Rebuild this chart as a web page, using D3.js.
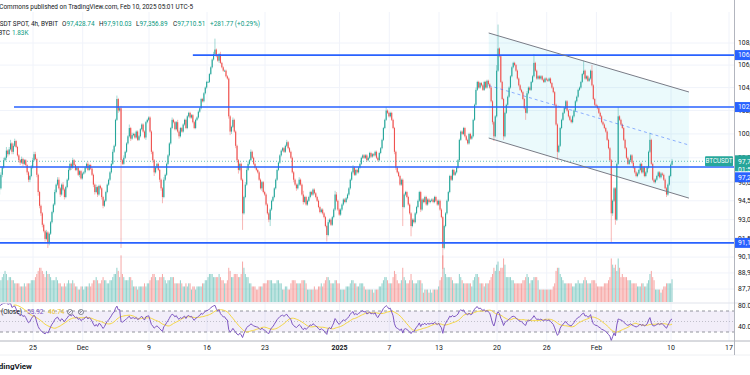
<!DOCTYPE html>
<html>
<head>
<meta charset="utf-8">
<script src="https://d3js.org/d3.v7.min.js"></script>
<style>
  body { margin: 0; background: #fff; }
  svg { display: block; font-family: Roboto, "Liberation Sans", sans-serif; }
</style>
</head>
<body>
<div id="chart"></div>
<script>
// BTCUSDT 4h candles, chart time UTC-5. Closes in hundreds of USDT, six bars a day (03,07,11,15,19,23h)
var firstBar = "2024-11-18T03:00";
var firstOpen = 902;

var closesNov = [
  905, 910, 915, 908, 912, 918,
  922, 928, 935, 930, 926, 925,
  932, 940, 938, 945, 950, 955,
  966, 972, 978, 980, 986, 983,
  987, 992, 985, 990, 994, 989,
  982, 978, 976, 979, 975, 978,
  974, 968, 962, 965, 972, 978,
  983, 979, 966, 952, 941, 935,
  926, 921, 915, 920, 912, 919,
  928, 936, 942, 952, 958, 962,
  955, 950, 958, 954, 948, 956,
  962, 970, 975, 972, 978, 974,
  970, 972, 966, 969, 963, 967
];
var closesDec = [
  968, 972, 975, 970, 974, 971,
  966, 958, 952, 956, 950, 957,
  955, 948, 941, 945, 952, 958,
  962, 968, 975, 985, 990, 1012,
  1030, 1020, 1022, 978, 975, 980,
  985, 992, 998, 1005, 996, 999,
  1000, 997, 1002, 995, 998, 1004,
  1008, 1002, 997, 1010, 1012, 1014,
  1002, 985, 978, 968, 972, 975,
  970, 962, 955, 948, 962, 966,
  975, 982, 992, 1005, 1012, 1010,
  1004, 1010, 1002, 998, 1005, 1002,
  1008, 1012, 1005, 1015, 1018, 1014,
  1016, 1010, 1005, 1012, 1014, 1019,
  1022, 1030, 1028, 1035, 1040, 1045,
  1045, 1052, 1058, 1065, 1070, 1074,
  1068, 1064, 1070, 1062, 1058, 1055,
  1055, 1050, 1048, 1015, 1002, 1006,
  1012, 1002, 990, 978, 970, 975,
  962, 935, 948, 958, 970, 975,
  978, 985, 980, 975, 972, 970,
  968, 962, 955, 960, 952, 950,
  942, 935, 930, 938, 945, 948,
  955, 962, 970, 976, 982, 986,
  988, 985, 990, 993, 988, 985,
  980, 968, 962, 958, 955, 958,
  962, 958, 950, 944, 948, 942,
  945, 948, 952, 950, 954, 951,
  948, 945, 940, 936, 938, 935,
  932, 925, 918, 928, 930, 926,
  932, 938, 950, 945, 938, 934
];
var closesJan = [
  938, 942, 946, 944, 947, 950,
  955, 962, 968, 972, 966, 970,
  968, 972, 975, 980, 982, 980,
  982, 978, 980, 984, 981, 983,
  982, 985, 980, 978, 984, 988,
  995, 1005, 1012, 1020, 1018, 1015,
  1018, 1012, 1005, 985, 972, 968,
  965, 958, 962, 940, 950, 952,
  948, 942, 935, 925, 930, 928,
  935, 940, 945, 952, 938, 946,
  944, 948, 942, 946, 944, 945,
  946, 944, 948, 945, 942, 945,
  938, 932, 908, 925, 935, 945,
  952, 965, 962, 970, 966, 968,
  972, 978, 995, 1002, 1000, 1005,
  998, 995, 992, 1000, 996, 998,
  1012, 1025, 1038, 1045, 1040, 1044,
  1042, 1038, 1045, 1040, 1046, 1043,
  1040, 1028, 1010, 998, 1015, 1055,
  1075, 1068, 1045, 1030, 998, 1018,
  1025, 1032, 1040, 1050, 1058, 1062,
  1060, 1055, 1048, 1042, 1038, 1036,
  1030, 1022, 1018, 1035, 1040, 1038,
  1045, 1050, 1062, 1055, 1048, 1050,
  1048, 1050, 1047, 1045, 1048, 1047,
  1046, 1048, 1044, 1040, 1036, 1025,
  1008, 985, 990, 1005, 1012, 1018,
  1022, 1028, 1020, 1015, 1012, 1010,
  1015, 1020, 1028, 1032, 1038, 1040,
  1045, 1052, 1055, 1048, 1050, 1046,
  1048, 1055, 1042, 1030, 1025, 1024
];
var closesFeb = [
  1022, 1018, 1015, 1010, 1008, 1005,
  1002, 995, 988, 978, 935, 945,
  955, 930, 975, 1015, 1012, 1008,
  1005, 995, 988, 980, 975, 978,
  982, 976, 972, 968, 965, 967,
  970, 975, 968, 972, 965, 968,
  972, 985, 995, 975, 962, 960,
  962, 965, 968, 964, 967, 966,
  962, 955, 950, 958, 965, 974.3
];

// wick lengths beyond the body, hundreds of USDT, one base-36 digit per bar
var upNov = "211121 212111 121212 212131 231221 111211 111122 221111 111211 111212 211211 121121 111111";
var dnNov = "121211 112121 211112 121122 112211 122121 122211 112322 212142 111111 121121 111211 111211";
var upDec = "111211 111211 111111 111211 311212 111312 111111 111111 111111 111121 111121 112111 111111 111111 111111 11112a " +
            "121211 111111 211111 111222 121111 111111 111111 111111 111211 111111 211311 111111 111111 111211 113211";
var dnDec = "111111 122121 122111 111111 121211 111121 111111 111211 122311 122511 111111 111211 111111 111111 111111 111111 " +
            "112111 111232 112231 1d1111 111111 111211 112511 111111 111111 112121 111211 111111 111111 115111 111111";
var upJan = "111111 111211 111111 111111 111111 111311 111111 111111 111111 111111 111111 111111 111111 111111 111111 111111 " +
            "112111 111111 111115 m11111 111111 111111 111211 118111 111111 111111 111111 111111 111111 119111 115111";
var dnJan = "111111 111111 111111 111111 111111 111111 111221 111f11 111811 111121 111111 111111 11g111 111111 111111 111111 " +
            "111111 111111 112411 111131 111111 111111 116111 111111 111111 111111 171111 111111 111111 111111 111111";
var upFeb = "111111 111111 111811 111111 111111 111111 116111 111111 111111";
var dnFeb = "111111 1111n2 141111 111111 111111 111111 111111 111111 112111";

// volume, units of 250 BTC, one base-36 digit per bar
var volNov = "786576 687565 676787 789a97 887766 665556 566677 789abb a98a99 877787 665565 676676 554455";
var volDec = "455565 677876 678776 677899 ba8f98 777887 555455 556566 789987 788987 677888 666676 556566 455455 556677 899988 " +
             "889877 667ba8 899988 9db988 665554 455566 677776 667766 445544 677766 667776 444445 445565 678876 667766";
var volJan = "444455 567766 556665 444444 344455 678876 668a97 667b87 667976 667776 344434 344445 78fb98 888766 669876 666665 " +
             "789986 665666 789bac dabbec 888877 666666 778986 778887 444444 444456 abb987 666666 556676 667876 667776";
var volFeb = "555556 6678ec bcaeb8 988877 766665 556655 679a87 444434 556666";

// long wicks that need more than one digit
var spikeTimes = ["2024-12-05T15:00"];
var spikeLows = [90800];

// the running bar, from the legend: O H L C and volume (K)
var lastTime = "2025-02-10T03:00";
var lastOHLC = [97428.74, 97910.03, 97356.89, 97710.51];
var lastVolume = 1.83;

// drawn levels and the falling channel
var levelPrices = [106900, 102300, 97240, 91190];
var levelStarts = ["2024-12-14T07:00", "2024-11-22T17:00", "2024-11-18T00:00", "2024-11-18T00:00"];
var channelTimes = ["2025-01-19T00:00", "2025-02-12T04:00"];
var channelUpper = [108918, 103612];
var channelLower = [99656, 94714];

// axes
var priceTicks = [108000, 106000, 104000, 102000, 100000, 98000, 96000, 94500, 93000, 91500, 90100, 88900, 87700];
var dateTicks = ["2024-11-25", "2024-12-01", "2024-12-09", "2024-12-16", "2024-12-23", "2025-01-01", "2025-01-07",
                 "2025-01-13", "2025-01-20", "2025-01-26", "2025-02-01", "2025-02-10", "2025-02-17"];
var dateLabels = ["25", "Dec", "9", "16", "23", "2025", "7", "13", "20", "26", "Feb", "10", "17"];
var rsiTicks = [80, 40];
var rsiLegend = ["53.92", "46.74"];

var width = 750, height = 375;
var axisX = 734;
var paneTop = 12, paneBottom = 302, rsiTop = 303, rsiBottom = 341;
var upColor = "#26a69a", downColor = "#ef5350", blue = "#2962ff";

var parseTime = d3.utcParse("%Y-%m-%dT%H:%M");
var parseDay = d3.utcParse("%Y-%m-%d");

function digits(s) {
  return s.replace(/ /g, "").split("").map(function(ch) { return parseInt(ch, 36); });
}

var closes = closesNov.concat(closesDec, closesJan, closesFeb);
var ups = digits(upNov + upDec + upJan + upFeb);
var dns = digits(dnNov + dnDec + dnJan + dnFeb);
var vols = digits(volNov + volDec + volJan + volFeb);

var t0 = parseTime(firstBar).getTime();
var candles = closes.map(function(c, i) {
  var o = i === 0 ? firstOpen : closes[i - 1];
  return {
    t: new Date(t0 + i * 4 * 3600e3),
    o: o * 100, c: c * 100,
    h: (Math.max(o, c) + ups[i]) * 100,
    l: (Math.min(o, c) - dns[i]) * 100,
    v: vols[i] * 0.25
  };
});
spikeTimes.forEach(function(s, k) {
  var t = parseTime(s).getTime();
  candles.forEach(function(d) { if (d.t.getTime() === t) d.l = spikeLows[k]; });
});
candles.push({ t: parseTime(lastTime), o: lastOHLC[0], h: lastOHLC[1], l: lastOHLC[2], c: lastOHLC[3], v: lastVolume });

// RSI 14 (Wilder) and its SMA 14
function rsi(values, n) {
  var out = values.map(function() { return null; });
  var g = 0, l = 0, i, d;
  for (i = 1; i <= n; i++) { d = values[i] - values[i - 1]; if (d > 0) g += d; else l -= d; }
  g /= n; l /= n;
  out[n] = 100 - 100 / (1 + g / l);
  for (i = n + 1; i < values.length; i++) {
    d = values[i] - values[i - 1];
    g = (g * (n - 1) + Math.max(d, 0)) / n;
    l = (l * (n - 1) + Math.max(-d, 0)) / n;
    out[i] = l === 0 ? 100 : 100 - 100 / (1 + g / l);
  }
  return out;
}
var rsiVals = rsi(candles.map(function(d) { return d.c; }), 14);
var rsiMa = rsiVals.map(function(v, i) {
  if (i < 27) return null;
  return d3.mean(rsiVals.slice(i - 13, i + 1));
});
candles.forEach(function(d, i) { d.rsi = rsiVals[i]; d.ma = rsiMa[i]; });

// scales
var x = d3.scaleUtc().domain([parseDay("2024-11-25"), parseDay("2025-02-17")]).range([33, 729]);
var y = d3.scaleLog().domain([87700, 108000]).range([289, 43]);
var yVol = d3.scaleLinear().domain([0, 4.5]).range([paneBottom, paneBottom - 56]);
var yRsi = d3.scaleLinear().domain([30, 70]).range([332, 311]);

var svg = d3.select("#chart").append("svg").attr("width", width).attr("height", height);
svg.append("rect").attr("width", width).attr("height", height).attr("fill", "#fff");

var defs = svg.append("defs");
defs.append("clipPath").attr("id", "pane").append("rect")
  .attr("x", 0).attr("y", paneTop).attr("width", axisX).attr("height", paneBottom - paneTop);
defs.append("clipPath").attr("id", "rsipane").append("rect")
  .attr("x", 0).attr("y", rsiTop).attr("width", axisX).attr("height", rsiBottom - rsiTop);

// grid
var grid = svg.append("g").attr("stroke", "#f0f3fa").attr("stroke-width", 1);
grid.selectAll("line.v").data(dateTicks).enter().append("line")
  .attr("x1", function(d) { return x(parseDay(d)); }).attr("x2", function(d) { return x(parseDay(d)); })
  .attr("y1", paneTop).attr("y2", rsiBottom);
grid.selectAll("line.h").data(priceTicks).enter().append("line")
  .attr("x1", 0).attr("x2", axisX)
  .attr("y1", function(d) { return y(d); }).attr("y2", function(d) { return y(d); });

var pane = svg.append("g").attr("clip-path", "url(#pane)");

// channel fill
var cx0 = x(parseTime(channelTimes[0])), cx1 = x(parseTime(channelTimes[1]));
pane.append("path")
  .attr("d", "M" + cx0 + "," + y(channelUpper[0]) + "L" + cx1 + "," + y(channelUpper[1]) +
             "L" + cx1 + "," + y(channelLower[1]) + "L" + cx0 + "," + y(channelLower[0]) + "Z")
  .attr("fill", "rgba(0,188,212,0.08)");

// volume
pane.selectAll("rect.vol").data(candles).enter().append("rect")
  .attr("x", function(d) { return x(d.t) - 0.5; })
  .attr("width", 1)
  .attr("y", function(d) { return yVol(d.v); })
  .attr("height", function(d) { return paneBottom - yVol(d.v); })
  .attr("fill", function(d) { return d.c >= d.o ? "rgba(38,166,154,0.5)" : "rgba(239,83,80,0.5)"; });

// candles
var bars = pane.append("g").selectAll("g").data(candles).enter().append("g")
  .attr("fill", function(d) { return d.c >= d.o ? upColor : downColor; })
  .attr("stroke", function(d) { return d.c >= d.o ? upColor : downColor; });
bars.append("line")
  .attr("x1", function(d) { return x(d.t); }).attr("x2", function(d) { return x(d.t); })
  .attr("y1", function(d) { return y(d.h); }).attr("y2", function(d) { return y(d.l); })
  .attr("stroke-width", 0.6).attr("stroke-opacity", 0.7);
bars.append("rect")
  .attr("stroke", "none")
  .attr("x", function(d) { return x(d.t) - 0.55; })
  .attr("width", 1.1)
  .attr("y", function(d) { return y(Math.max(d.o, d.c)); })
  .attr("height", function(d) { return Math.max(0.8, Math.abs(y(d.o) - y(d.c))); });

// levels
pane.selectAll("line.level").data(levelPrices).enter().append("line")
  .attr("x1", function(d, i) { return Math.max(0, x(parseTime(levelStarts[i]))); })
  .attr("x2", axisX)
  .attr("y1", function(d) { return y(d); }).attr("y2", function(d) { return y(d); })
  .attr("stroke", blue).attr("stroke-width", 1.6);

// last price line
var lastPrice = lastOHLC[3];
pane.append("line").attr("x1", 0).attr("x2", axisX)
  .attr("y1", y(lastPrice)).attr("y2", y(lastPrice))
  .attr("stroke", upColor).attr("stroke-width", 0.7).attr("stroke-dasharray", "1,2");

// channel borders
[channelUpper, channelLower].forEach(function(c) {
  pane.append("line").attr("x1", cx0).attr("x2", cx1)
    .attr("y1", y(c[0])).attr("y2", y(c[1]))
    .attr("stroke", "#787b86").attr("stroke-width", 1);
});
pane.append("line").attr("x1", cx0).attr("x2", cx1)
  .attr("y1", (y(channelUpper[0]) + y(channelLower[0])) / 2)
  .attr("y2", (y(channelUpper[1]) + y(channelLower[1])) / 2)
  .attr("stroke", blue).attr("stroke-opacity", 0.5).attr("stroke-width", 1).attr("stroke-dasharray", "3,3");

// RSI pane
var rp = svg.append("g").attr("clip-path", "url(#rsipane)");
rp.append("rect").attr("x", 0).attr("width", axisX)
  .attr("y", yRsi(70)).attr("height", yRsi(30) - yRsi(70))
  .attr("fill", "rgba(126,87,194,0.1)");
[70, 30].forEach(function(v) {
  rp.append("line").attr("x1", 0).attr("x2", axisX).attr("y1", yRsi(v)).attr("y2", yRsi(v))
    .attr("stroke", "#787b86").attr("stroke-width", 0.8).attr("stroke-dasharray", "3,3");
});
rp.append("line").attr("x1", 0).attr("x2", axisX).attr("y1", yRsi(50)).attr("y2", yRsi(50))
  .attr("stroke", "#787b86").attr("stroke-opacity", 0.5).attr("stroke-width", 0.8).attr("stroke-dasharray", "1,2");
rp.append("path").datum(candles)
  .attr("d", d3.line().defined(function(d) { return d.ma != null; })
    .x(function(d) { return x(d.t); }).y(function(d) { return yRsi(d.ma); }))
  .attr("fill", "none").attr("stroke", "#f5d742").attr("stroke-width", 1);
rp.append("path").datum(candles)
  .attr("d", d3.line().defined(function(d) { return d.rsi != null; })
    .x(function(d) { return x(d.t); }).y(function(d) { return yRsi(d.rsi); }))
  .attr("fill", "none").attr("stroke", "#7e57c2").attr("stroke-width", 1);

// borders
svg.append("line").attr("x1", 0).attr("x2", width).attr("y1", rsiTop).attr("y2", rsiTop).attr("stroke", "#e0e3eb");
svg.append("line").attr("x1", 0).attr("x2", width).attr("y1", rsiBottom).attr("y2", rsiBottom).attr("stroke", "#b2b5be");
svg.append("line").attr("x1", 0).attr("x2", width).attr("y1", 355).attr("y2", 355).attr("stroke", "#eef0f3");
svg.append("line").attr("x1", axisX + 0.5).attr("x2", axisX + 0.5).attr("y1", 0).attr("y2", 355).attr("stroke", "#b2b5be");

// price axis
var axisG = svg.append("g").attr("font-size", 6.8).attr("fill", "#131722");
axisG.selectAll("text.tick").data(priceTicks).enter().append("text")
  .attr("x", axisX + 4).attr("y", function(d) { return y(d); }).attr("dy", "0.35em")
  .text(function(d) { return d3.format(",")(d); });
axisG.selectAll("text.rsi").data(rsiTicks).enter().append("text")
  .attr("x", axisX + 4).attr("y", function(d) { return yRsi(d); }).attr("dy", "0.35em")
  .text(function(d) { return d3.format(".2f")(d); });

// last price tag
var lpY = y(lastPrice);
svg.append("rect").attr("x", axisX + 1).attr("y", lpY - 6).attr("width", width - axisX).attr("height", 16).attr("fill", upColor);
svg.append("text").attr("x", axisX + 4).attr("y", lpY).attr("dy", "0.35em").attr("font-size", 6.8).attr("fill", "#fff")
  .text(d3.format(",.2f")(lastPrice));
svg.append("text").attr("x", axisX + 4).attr("y", lpY + 8).attr("dy", "0.35em").attr("font-size", 6.8).attr("fill", "#fff")
  .text("01:58");
svg.append("rect").attr("x", axisX - 29).attr("y", lpY - 5).attr("width", 28).attr("height", 10).attr("rx", 1).attr("fill", upColor);
svg.append("text").attr("x", axisX - 15).attr("y", lpY).attr("dy", "0.35em").attr("text-anchor", "middle")
  .attr("font-size", 6.3).attr("fill", "#fff").text("BTCUSDT");

// level tags, pushed below the last price tag when they collide
levelPrices.forEach(function(p) {
  var ly = y(p);
  if (Math.abs(ly - lpY) < 14) ly = lpY + 16;
  svg.append("rect").attr("x", axisX + 1).attr("y", ly - 5).attr("width", width - axisX).attr("height", 10).attr("fill", blue);
  svg.append("text").attr("x", axisX + 4).attr("y", ly).attr("dy", "0.35em").attr("font-size", 6.8).attr("fill", "#fff")
    .text(d3.format(",.2f")(p));
});

// time axis
svg.append("g").attr("font-size", 7).attr("fill", "#131722").attr("text-anchor", "middle")
  .selectAll("text").data(dateTicks).enter().append("text")
  .attr("x", function(d) { return x(parseDay(d)); }).attr("y", 348).attr("dy", "0.35em")
  .attr("font-weight", function(d, i) { return dateLabels[i] === "2025" ? "bold" : null; })
  .text(function(d, i) { return dateLabels[i]; });

// legends
var hdr = svg.append("g").attr("font-size", 6.4).attr("fill", "#131722");
hdr.append("text").attr("x", 193).attr("y", 7).attr("dy", "0.35em").attr("text-anchor", "end")
  .text("Commons published on TradingView.com, Feb 10, 2025 05:01 UTC-5");
hdr.append("text").attr("x", 58).attr("y", 24).attr("dy", "0.35em").attr("text-anchor", "end")
  .text("BTCUSDT SPOT, 4h, BYBIT");
var ohlcNames = ["O", "H", "L", "C"];
var ohlcX = [62, 99, 136, 173];
ohlcNames.forEach(function(n, i) {
  var t = hdr.append("text").attr("x", ohlcX[i]).attr("y", 24).attr("dy", "0.35em");
  t.append("tspan").text(n);
  t.append("tspan").attr("fill", "#089981").text(d3.format(",.2f")(lastOHLC[i]));
});
hdr.append("text").attr("x", 210).attr("y", 24).attr("dy", "0.35em").attr("fill", "#089981")
  .text("+" + d3.format(",.2f")(lastOHLC[3] - lastOHLC[0]) + " (+" +
        d3.format(".2f")((lastOHLC[3] - lastOHLC[0]) / lastOHLC[0] * 100) + "%)");
hdr.append("text").attr("x", 10).attr("y", 33).attr("dy", "0.35em").attr("text-anchor", "end").text("Vol · BTC");
hdr.append("text").attr("x", 12).attr("y", 33).attr("dy", "0.35em").attr("fill", "#089981").text(lastVolume + "K");

var rl = svg.append("g").attr("font-size", 6.6);
rl.append("text").attr("x", 22).attr("y", 312).attr("dy", "0.35em").attr("text-anchor", "end").attr("fill", "#131722")
  .text("RSI 14 SMA 14 (Close)");
rl.append("text").attr("x", 27).attr("y", 312).attr("dy", "0.35em").attr("fill", "#7e57c2").text(rsiLegend[0]);
rl.append("text").attr("x", 48).attr("y", 312).attr("dy", "0.35em").attr("fill", "#e6c229").text(rsiLegend[1]);
[70, 81].forEach(function(cx) {
  rl.append("circle").attr("cx", cx).attr("cy", 312).attr("r", 2.6).attr("fill", "none").attr("stroke", "#787b86").attr("stroke-width", 0.8);
  rl.append("line").attr("x1", cx - 1.8).attr("x2", cx + 1.8).attr("y1", 313.8).attr("y2", 310.2).attr("stroke", "#787b86").attr("stroke-width", 0.8);
});

svg.append("text").attr("x", -13).attr("y", 366).attr("dy", "0.35em").attr("font-size", 8).attr("font-weight", "bold")
  .attr("fill", "#131722").text("TradingView");
</script>
</body>
</html>
